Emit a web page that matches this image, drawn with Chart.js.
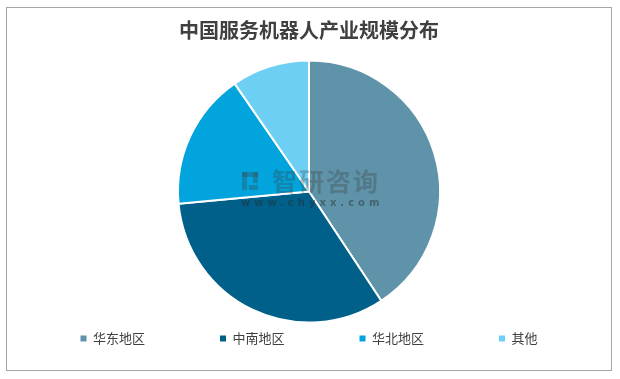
<!DOCTYPE html>
<html><head><meta charset="utf-8">
<script src="https://cdn.jsdelivr.net/npm/chart.js@4/dist/chart.umd.min.js"></script>
<style>html,body{margin:0;padding:0;background:#fff;}</style>
</head><body>
<canvas id="c" width="620" height="379"></canvas>
<script>
const categories = ['华东地区', '中南地区', '华北地区', '其他'];
const shares = [40.7, 32.8, 16.9, 9.6];
const colors = ['#5E93AA', '#01608A', '#02A4DD', '#6ECFF5'];
const titleText = '中国服务机器人产业规模分布';
const watermarkName = '智研咨询';
const watermarkUrl = 'www.chyxx.com';

const framePlugin = {
  id: 'frame',
  beforeDraw(chart) {
    const ctx = chart.ctx;
    ctx.save();
    ctx.fillStyle = '#ffffff';
    ctx.fillRect(0, 0, chart.width, chart.height);
    ctx.strokeStyle = '#A6A6A6';
    ctx.lineWidth = 1;
    ctx.strokeRect(6.5, 7.5, 605, 363);
    ctx.restore();
  }
};

const watermarkPlugin = {
  id: 'watermark',
  afterDatasetsDraw(chart) {
    const ctx = chart.ctx;
    ctx.save();
    ctx.fillStyle = 'rgba(60,60,60,0.3)';
    ctx.fillRect(242, 172, 5, 18);
    ctx.fillRect(242, 172, 16, 5);
    ctx.fillRect(253, 172, 5, 11);
    ctx.fillRect(249, 185, 9, 5);
    ctx.font = 'bold 25px "Noto Sans CJK SC"';
    ctx.textBaseline = 'middle';
    ctx.textAlign = 'left';
    if ('letterSpacing' in ctx) ctx.letterSpacing = '2px';
    ctx.fillText(watermarkName, 272, 181);
    ctx.fillStyle = 'rgba(40,40,40,0.45)';
    ctx.font = 'bold 10px "DejaVu Sans"';
    if ('letterSpacing' in ctx) ctx.letterSpacing = '4px';
    ctx.fillText(watermarkUrl, 241, 203);
    ctx.restore();
  }
};

new Chart(document.getElementById('c'), {
  type: 'pie',
  data: {
    labels: categories,
    datasets: [{
      data: shares,
      backgroundColor: colors,
      borderColor: '#ffffff',
      borderWidth: 2,
      radius: 131
    }]
  },
  options: {
    responsive: false,
    animation: false,
    layout: { padding: { top: 0, bottom: 24, left: 0, right: 2 } },
    plugins: {
      title: {
        display: true,
        text: titleText,
        color: '#404040',
        font: { family: '"Noto Sans CJK SC"', size: 20, weight: 'bold', lineHeight: 1.2 },
        padding: { top: 18, bottom: 84 }
      },
      legend: {
        display: true,
        position: 'bottom',
        labels: {
          boxWidth: 6,
          boxHeight: 6,
          padding: 75,
          color: '#404040',
          font: { family: '"Noto Sans CJK SC"', size: 13 },
          generateLabels(chart) {
            return categories.map((c, i) => ({
              text: c,
              fillStyle: colors[i],
              strokeStyle: colors[i],
              lineWidth: 0,
              fontColor: '#404040',
              hidden: false,
              index: i
            }));
          }
        }
      },
      tooltip: { enabled: false }
    }
  },
  plugins: [framePlugin, watermarkPlugin]
});
</script>
</body></html>
